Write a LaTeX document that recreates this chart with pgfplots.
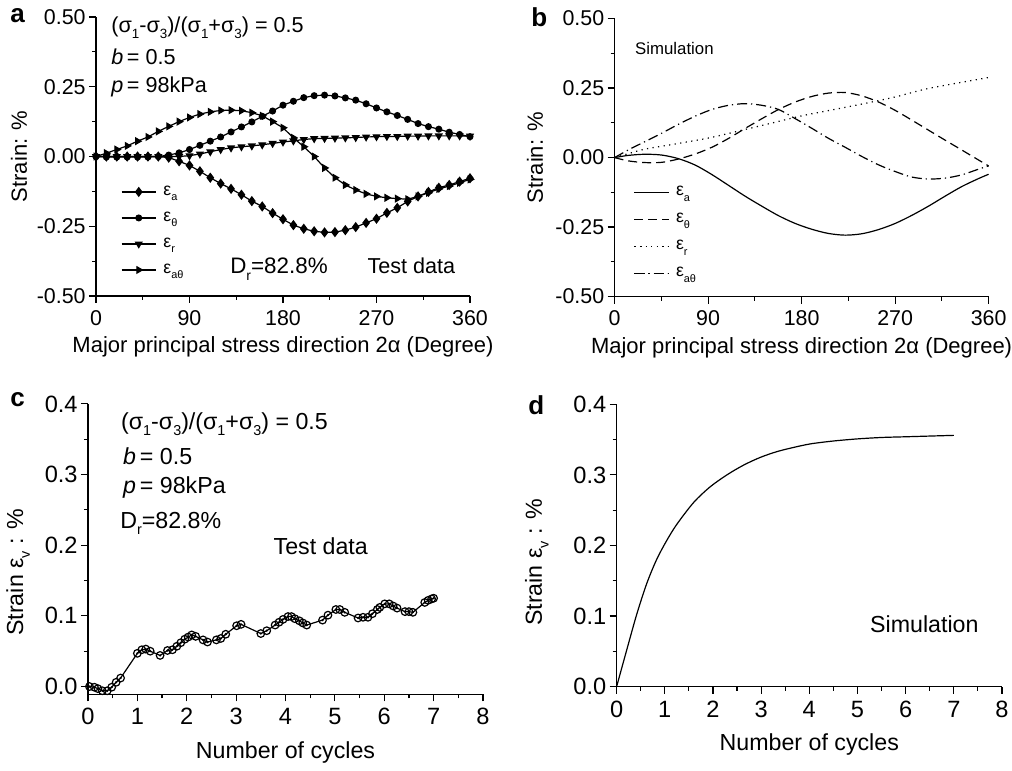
\documentclass[border=0pt]{standalone}
\usepackage{pgfplots}
\pgfplotsset{compat=1.18}
\usepackage{graphicx}
\usepackage{fontspec}
\setmainfont{Liberation Sans}
\newcommand\sub[1]{\raisebox{-0.55ex}{\scalebox{0.62}{#1}}}

\tikzset{
  ann/.style={anchor=base west, inner sep=0pt, font=\fontsize{10.8}{12}\selectfont},
  annb/.style={anchor=base west, inner sep=0pt, font=\fontsize{11.6}{13}\selectfont},
  letter/.style={anchor=base west, inner sep=0pt, font=\bfseries\fontsize{13}{13}\selectfont},
}
\pgfplotsset{
  panel/.style={
    scale only axis, anchor=south west, clip=false,
    axis x line*=bottom, axis y line*=left,
    tick align=outside, major tick length=3.5pt, minor tick length=2pt,
    axis line style={line width=0.6pt, black},
    tick style={line width=0.6pt, black},
    yticklabel style={inner xsep=1.5pt},
  },
  toprow/.style={
    panel, width=187pt, height=139.5pt,
    xmin=0, xmax=360, ymin=-0.5, ymax=0.5,
    xtick={0,90,180,270,360}, xticklabels={0,90,180,270,360},
    minor xtick={45,135,225,315},
    ytick={-0.5,-0.25,0,0.25,0.5}, yticklabels={-0.50,-0.25,0.00,0.25,0.50},
    minor ytick={-0.375,-0.125,0.125,0.375},
    ticklabel style={font=\fontsize{10.7}{12}\selectfont},
    label style={font=\fontsize{11}{12}\selectfont},
    xlabel={Major principal stress direction 2α (Degree)},
    ylabel={Strain: \%},
    legend cell align=left,
  },
  botrow/.style={
    panel,
    xmin=0, xmax=8,
    xtick={0,1,2,3,4,5,6,7,8}, xticklabels={0,1,2,3,4,5,6,7,8},
    minor xtick={0.5,1.5,2.5,3.5,4.5,5.5,6.5,7.5},
    ymax=0.4,
    ytick={0,0.1,0.2,0.3,0.4}, yticklabels={0.0,0.1,0.2,0.3,0.4},
    minor ytick={0.05,0.15,0.25,0.35},
    ticklabel style={font=\fontsize{11.8}{13}\selectfont},
    label style={font=\fontsize{11.6}{13}\selectfont},
    xlabel={Number of cycles},
    ylabel={Strain ε\sub{v} : \%},
  },
  leg/.style={legend style={draw=none, fill=none, anchor=north west,
    font=\fontsize{8.8}{9}\selectfont, row sep=#1, column sep=2.5pt, inner sep=0pt,
    nodes={inner sep=1pt, text height=6pt, text depth=2.5pt}}},
}

\pgfplotstableread{
deg ea etheta er eat
0 0 0 0 0
10 0 -0.002 0 0.012
20 0 -0.002 0 0.025
30 0 -0.002 0 0.038
40 0 -0.002 0 0.055
50 0 -0.002 0 0.070
60 0 0.000 0 0.090
70 -0.004 0.005 0 0.108
80 -0.017 0.013 0 0.125
90 -0.032 0.025 0.003 0.140
100 -0.053 0.040 0.009 0.152
110 -0.076 0.055 0.017 0.160
120 -0.097 0.070 0.025 0.165
130 -0.116 0.088 0.031 0.166
140 -0.137 0.106 0.035 0.164
150 -0.160 0.124 0.038 0.157
160 -0.179 0.144 0.042 0.146
170 -0.203 0.163 0.047 0.125
180 -0.225 0.184 0.052 0.103
190 -0.246 0.198 0.056 0.067
200 -0.259 0.211 0.061 0.035
210 -0.268 0.218 0.064 0.000
220 -0.272 0.220 0.065 -0.041
230 -0.271 0.217 0.066 -0.076
240 -0.264 0.210 0.067 -0.102
250 -0.253 0.202 0.068 -0.120
260 -0.238 0.189 0.070 -0.134
270 -0.223 0.174 0.071 -0.143
280 -0.202 0.160 0.072 -0.148
290 -0.184 0.147 0.072 -0.151
300 -0.161 0.133 0.073 -0.153
310 -0.143 0.118 0.073 -0.143
320 -0.127 0.107 0.074 -0.130
330 -0.112 0.098 0.074 -0.116
340 -0.102 0.087 0.074 -0.106
350 -0.090 0.079 0.074 -0.094
360 -0.078 0.071 0.073 -0.082
}\testA

\pgfplotstableread{
deg ea etheta eat
0 0 0 0
13.4 0.008 -0.012 0.028
29.5 0.012 -0.018 0.058
45.5 0.009 -0.017 0.088
61.6 -0.004 -0.005 0.120
77.6 -0.027 0.013 0.149
93.6 -0.061 0.037 0.173
109.7 -0.100 0.069 0.188
125.7 -0.139 0.105 0.194
141.8 -0.175 0.140 0.188
157.8 -0.209 0.173 0.173
173.9 -0.237 0.200 0.140
190 -0.258 0.220 0.105
206 -0.273 0.232 0.069
222 -0.279 0.234 0.037
238 -0.274 0.222 0.004
254 -0.259 0.200 -0.026
270 -0.237 0.170 -0.050
286 -0.208 0.135 -0.070
302 -0.175 0.099 -0.077
318 -0.139 0.063 -0.074
334.3 -0.104 0.027 -0.062
350 -0.076 -0.008 -0.042
360 -0.060 -0.030 -0.030
}\simA

\pgfplotstableread{
deg er
0 0
15 0.016
30 0.031
60 0.050
90 0.070
120 0.096
150 0.123
180 0.150
210 0.172
240 0.194
270 0.218
300 0.247
330 0.268
360 0.288
}\simR

\pgfplotstableread{
n ev
0.03 0.000
0.13 -0.001
0.20 -0.003
0.29 -0.006
0.39 -0.006
0.48 -0.001
0.57 0.006
0.66 0.012
1.00 0.047
1.09 0.052
1.17 0.053
1.26 0.050
1.46 0.044
1.61 0.051
1.71 0.052
1.80 0.057
1.88 0.062
1.96 0.067
2.03 0.070
2.10 0.073
2.18 0.071
2.33 0.066
2.42 0.063
2.60 0.066
2.69 0.068
2.79 0.074
3.01 0.086
3.10 0.088
3.50 0.075
3.62 0.079
3.79 0.087
3.87 0.091
3.95 0.095
4.05 0.099
4.12 0.099
4.19 0.096
4.28 0.093
4.35 0.090
4.43 0.087
4.75 0.094
4.86 0.101
5.02 0.109
5.10 0.109
5.20 0.105
5.47 0.097
5.57 0.098
5.67 0.098
5.76 0.103
5.86 0.109
5.91 0.112
6.01 0.117
6.10 0.117
6.18 0.114
6.26 0.111
6.42 0.106
6.50 0.106
6.58 0.105
6.82 0.119
6.89 0.122
6.96 0.124
7.00 0.125
}\testC

\pgfplotstableread{
n ev
0 0
0.21 0.052
0.42 0.103
0.625 0.146
0.83 0.180
1.04 0.207
1.25 0.230
1.60 0.261
1.94 0.283
2.29 0.300
2.64 0.314
2.99 0.325
3.33 0.333
3.68 0.339
4.03 0.344
4.50 0.348
5.00 0.351
5.50 0.353
6.00 0.354
6.50 0.355
7.00 0.356
}\simD

\begin{document}
\begin{tikzpicture}
\useasboundingbox (0,0) rectangle (506pt,385.5pt);

% ---------------- panel a
\begin{axis}[toprow, at={(48pt,237.5pt)},
  xlabel style={at={(rel axis cs:0.5,-0.183)}, anchor=center},
  ylabel style={at={(rel axis cs:-0.206,0.5)}, anchor=center},
  leg=2.5pt, legend style={at={(rel axis cs:0.066,0.412)}},
  every axis plot/.append style={line width=0.6pt, black},
]
\addplot[mark=diamond*, mark size=2.1pt] table[x=deg, y=ea] {\testA};
\addlegendentry{ε\sub{a}}
\addplot[mark=*, mark size=1.45pt] table[x=deg, y=etheta] {\testA};
\addlegendentry{ε\sub{θ}}
\addplot[mark=triangle*, mark size=1.8pt, mark options={rotate=180}] table[x=deg, y=er] {\testA};
\addlegendentry{ε\sub{r}}
\addplot[mark=triangle*, mark size=1.8pt, mark options={rotate=-90}] table[x=deg, y=eat] {\testA};
\addlegendentry{ε\sub{aθ}}
\node[ann] at (rel axis cs:0.04,0.946) {(σ\sub{1}-σ\sub{3})/(σ\sub{1}+σ\sub{3}) = 0.5};
\node[ann] at (rel axis cs:0.04,0.828) {\textit{b}\,= 0.5};
\node[ann] at (rel axis cs:0.04,0.731) {\textit{p}\,= 98kPa};
\node[ann, font=\fontsize{11.2}{12}\selectfont] at (rel axis cs:0.358,0.079) {D\sub{r}=82.8\%};
\node[ann] at (rel axis cs:0.725,0.082) {Test data};
\end{axis}

% ---------------- panel b
\begin{axis}[toprow, at={(307.3pt,237.2pt)}, height=139pt,
  xlabel style={at={(rel axis cs:0.5,-0.185)}, anchor=center},
  ylabel style={at={(rel axis cs:-0.213,0.5)}, anchor=center},
  leg=3pt, legend style={at={(rel axis cs:0.05,0.414)}},
  every axis plot/.append style={line width=0.6pt, black},
]
\addplot[smooth] table[x=deg, y=ea] {\simA};
\addlegendentry{ε\sub{a}}
\addplot[smooth, dash pattern=on 4.5pt off 2.5pt] table[x=deg, y=etheta] {\simA};
\addlegendentry{ε\sub{θ}}
\addplot[smooth, dash pattern=on 0.6pt off 2.2pt] table[x=deg, y=er] {\simR};
\addlegendentry{ε\sub{r}}
\addplot[smooth, dash pattern=on 5pt off 2pt on 0.6pt off 2pt] table[x=deg, y=eat] {\simA};
\addlegendentry{ε\sub{aθ}}
\node[anchor=base west, inner sep=0pt, font=\fontsize{8.4}{10}\selectfont] at (rel axis cs:0.054,0.870) {Simulation};
\end{axis}

% ---------------- panel c
\begin{axis}[botrow, at={(44pt,38.35pt)}, width=197.5pt, height=145.2pt, ymin=-0.011,
  xlabel style={at={(rel axis cs:0.5,-0.202)}, anchor=center},
  ylabel style={at={(rel axis cs:-0.177,0.42)}, anchor=center},
]
\addplot[line width=0.6pt, black, mark=o, mark size=1.9pt, mark options={fill=white, line width=0.6pt}] table[x=n, y=ev] {\testC};
\addplot[only marks, black, mark=*, mark size=0.35pt] table[x=n, y=ev] {\testC};
\node[annb] at (rel axis cs:0.083,0.913) {(σ\sub{1}-σ\sub{3})/(σ\sub{1}+σ\sub{3}) = 0.5};
\node[annb] at (rel axis cs:0.088,0.793) {\textit{b}\,= 0.5};
\node[annb] at (rel axis cs:0.088,0.692) {\textit{p}\,= 98kPa};
\node[annb] at (rel axis cs:0.081,0.572) {D\sub{r}=82.8\%};
\node[annb] at (rel axis cs:0.469,0.480) {Test data};
\end{axis}

% ---------------- panel d
\begin{axis}[botrow, at={(308.3pt,42.15pt)}, width=192.7pt, height=141.2pt, ymin=0,
  xlabel style={at={(rel axis cs:0.5,-0.206)}, anchor=center},
  ylabel style={at={(rel axis cs:-0.207,0.44)}, anchor=center},
]
\addplot[smooth, line width=0.6pt, black] table[x=n, y=ev] {\simD};
\node[annb] at (rel axis cs:0.657,0.191) {Simulation};
\end{axis}

\node[letter] at (5pt,374pt) {a};
\node[letter] at (265.5pt,372pt) {b};
\node[letter] at (5pt,182pt) {c};
\node[letter] at (264pt,178pt) {d};
\end{tikzpicture}
\end{document}
